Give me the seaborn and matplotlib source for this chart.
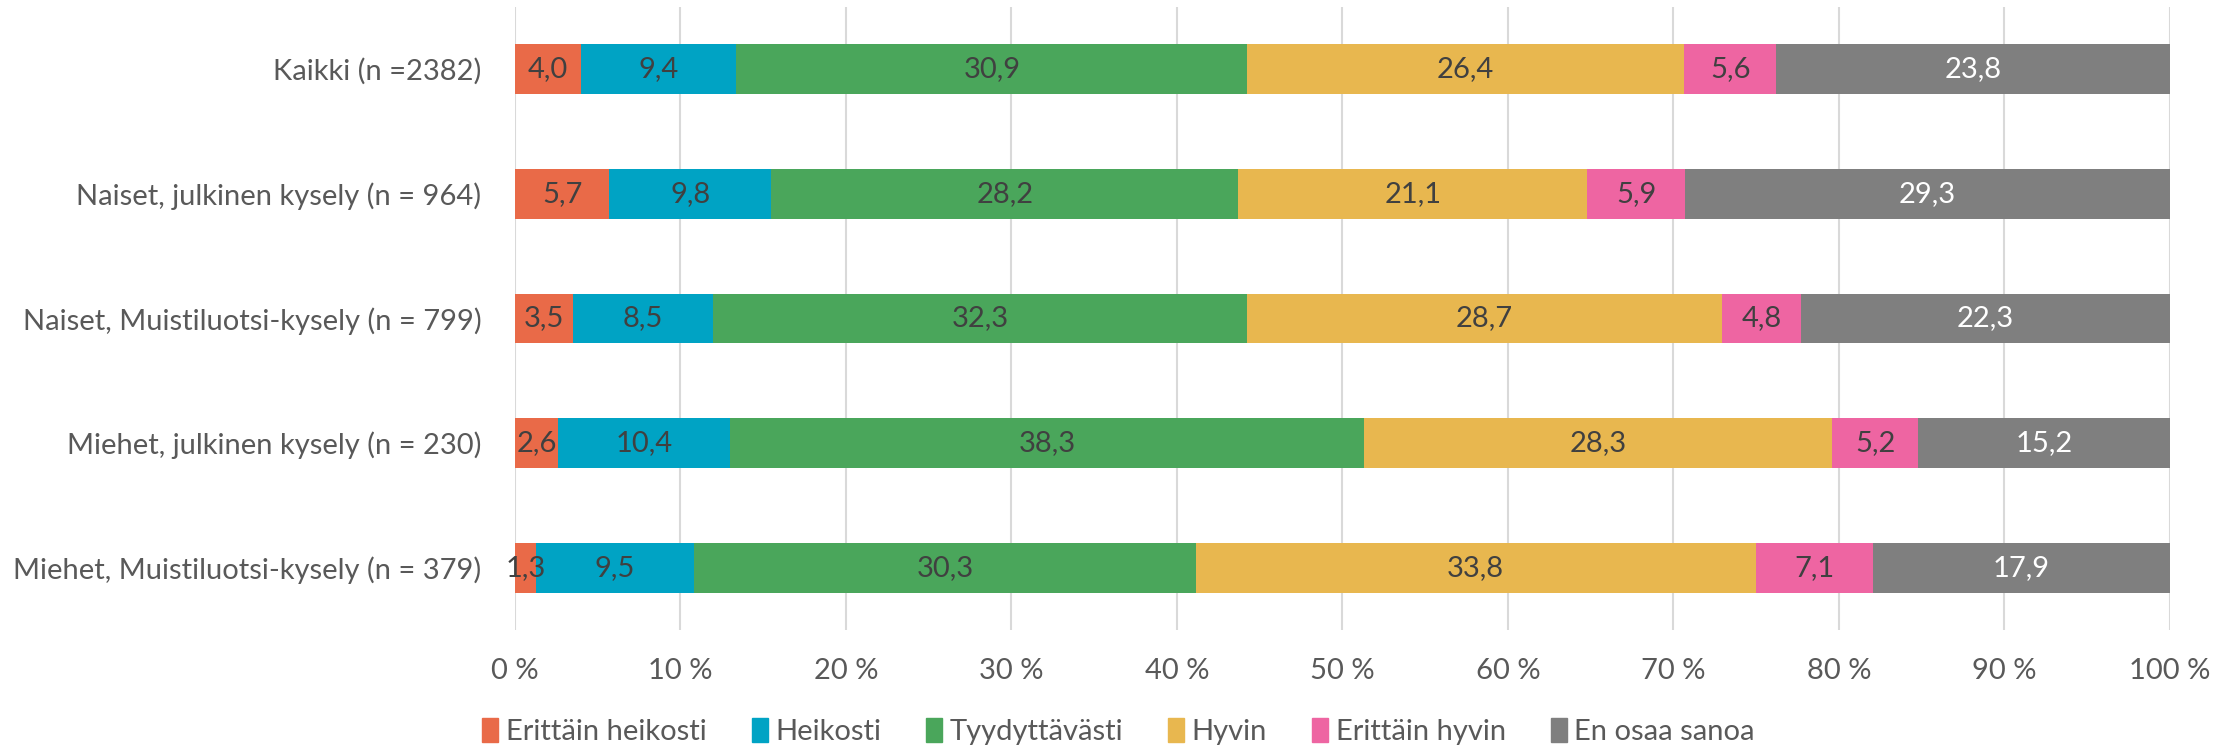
import numpy as np
import pandas as pd
import matplotlib.pyplot as plt
import matplotlib.patches as mpatches
from matplotlib.ticker import FuncFormatter
import seaborn as sns

groups = ["Kaikki (n =2382)",
          "Naiset, julkinen kysely (n = 964)",
          "Naiset, Muistiluotsi-kysely (n = 799)",
          "Miehet, julkinen kysely (n = 230)",
          "Miehet, Muistiluotsi-kysely (n = 379)"]
categories = ["Erittäin heikosti", "Heikosti", "Tyydyttävästi", "Hyvin", "Erittäin hyvin", "En osaa sanoa"]
erittain_heikosti = [4.0, 5.7, 3.5, 2.6, 1.3]
heikosti = [9.4, 9.8, 8.5, 10.4, 9.5]
tyydyttavasti = [30.9, 28.2, 32.3, 38.3, 30.3]
hyvin = [26.4, 21.1, 28.7, 28.3, 33.8]
erittain_hyvin = [5.6, 5.9, 4.8, 5.2, 7.1]
en_osaa = [23.8, 29.3, 22.3, 15.2, 17.9]

colors = ["#E96A48", "#00A3C4", "#4AA65B", "#E8B74F", "#EE65A2", "#7F7F7F"]
text_colors = ["#404040", "#404040", "#404040", "#404040", "#404040", "white"]

df = pd.DataFrame([erittain_heikosti, heikosti, tyydyttavasti, hyvin, erittain_hyvin, en_osaa],
                  index=categories, columns=groups).T
share = df.div(df.sum(axis=1), axis=0)
cum = share.cumsum(axis=1)

sns.set_style("white")
plt.rcParams["font.family"] = ["Lato", "DejaVu Sans"]

fig, ax = plt.subplots(figsize=(22.37, 7.49), dpi=100)
fig.subplots_adjust(left=0.2302, right=0.970, top=0.9907, bottom=0.159)

# draw cumulative bars from the widest down so each layer covers the next
for i in range(len(categories) - 1, -1, -1):
    cat = categories[i]
    plot_df = pd.DataFrame({"grp": groups, "val": cum[cat].values})
    sns.barplot(data=plot_df, y="grp", x="val", color=colors[i], orient="h",
                width=0.4, saturation=1, ax=ax, linewidth=0, zorder=2)

for i, cat in enumerate(categories):
    for j, g in enumerate(groups):
        v = df.loc[g, cat]
        xc = cum.loc[g, cat] - share.loc[g, cat] / 2
        ax.text(xc, j, f"{v:.1f}".replace(".", ","), ha="center", va="center",
                fontsize=21, color=text_colors[i], zorder=5)

ax.set_xlim(0, 1)
ax.set_ylim(4.5, -0.5)
ax.set_xticks(np.arange(0, 1.01, 0.1))
ax.xaxis.set_major_formatter(FuncFormatter(lambda x, p: f"{int(round(x * 100))} %"))
ax.grid(axis="x", color="#D9D9D9", linewidth=1.5, zorder=0)
ax.set_axisbelow(True)
for s in ax.spines.values():
    s.set_visible(False)
ax.set_xlabel("")
ax.set_ylabel("")
ax.tick_params(axis="both", length=0, labelsize=21, labelcolor="#595959")
ax.tick_params(axis="x", pad=20)
ax.tick_params(axis="y", pad=24)

handles = [mpatches.Patch(color=c, label=l) for c, l in zip(colors, categories)]
fig.legend(handles=handles, loc="center", bbox_to_anchor=(0.5, 0.023), ncol=6, frameon=False,
           fontsize=21, labelcolor="#595959", handlelength=0.55, handleheight=0.85,
           handletextpad=0.25, columnspacing=1.55)

fig.savefig("out.png", dpi=100)
